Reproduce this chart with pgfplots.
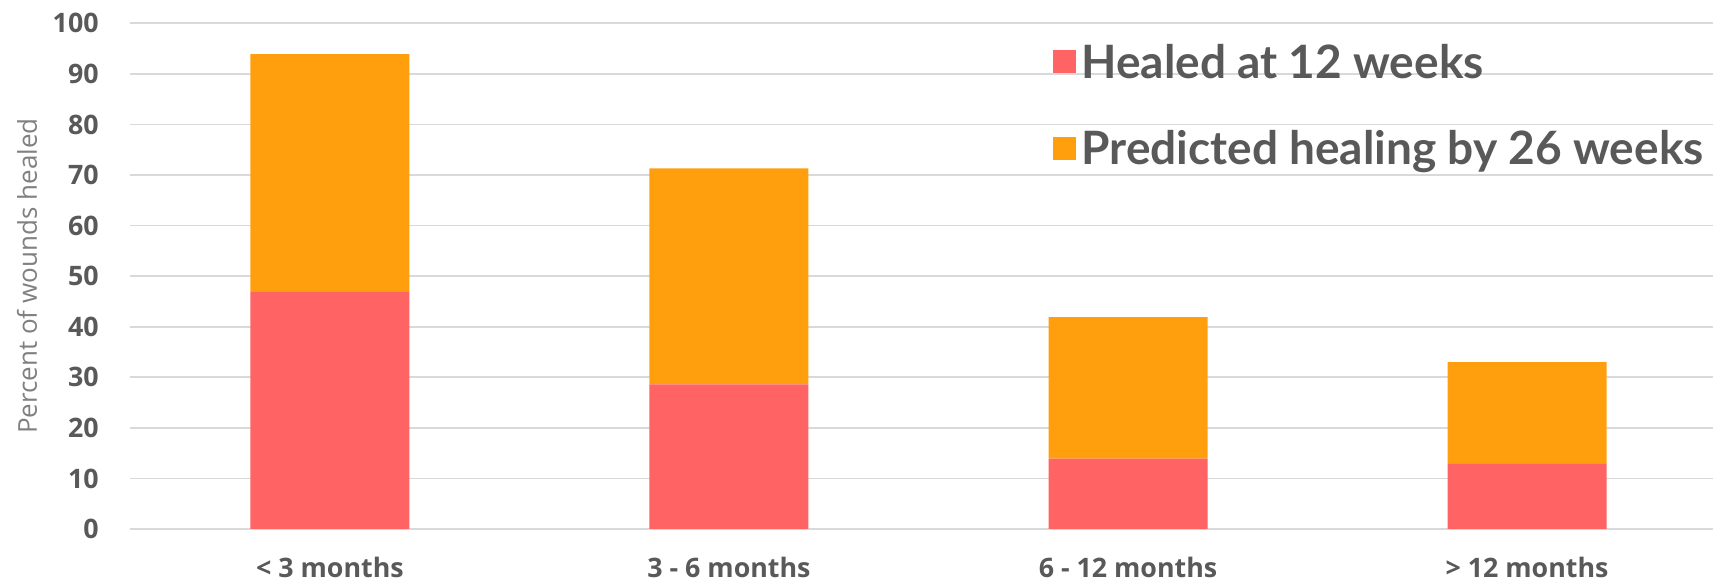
\documentclass[border=0pt]{standalone}
\usepackage{pgfplots}
\pgfplotsset{compat=1.18}
\usepackage{fontspec}
\setmainfont{Open Sans}
\newfontfamily\legfont{Lato}
\definecolor{redbar}{RGB}{255,99,99}
\definecolor{orangebar}{RGB}{255,159,13}
\definecolor{textgray}{RGB}{89,89,89}
\definecolor{labelgray}{RGB}{128,128,128}
\definecolor{gridgray}{RGB}{217,217,217}
\begin{document}
\begin{tikzpicture}
\begin{axis}[
  name=ax,
  scale only axis,
  width=791.5pt, height=252.85pt,
  ybar stacked, bar width=79.5pt,
  xmin=-0.501, xmax=3.466,
  ymin=0, ymax=100,
  ytick={0,10,...,100},
  xtick=data,
  xticklabels={{< 3 months},{3 - 6 months},{6 - 12 months},{> 12 months}},
  axis line style={draw=none},
  major tick length=0pt,
  ymajorgrids, grid style={gridgray, line width=0.8pt},
  /pgf/number format/assume math mode=true,
  ticklabel style={font=\bfseries\fontsize{13.4}{14}\selectfont, text=textgray},
  yticklabel style={anchor=east, inner sep=0pt, xshift=-15.5pt},
  xticklabel style={anchor=base, inner sep=0pt, yshift=-24.5pt},
  ylabel={Percent of wounds healed},
  ylabel style={at={(axis description cs:-0.0651,0.5)}, anchor=center, rotate=0,
    font=\fontsize{13}{14}\selectfont, text=labelgray},
  legend style={at={(rel axis cs:0.5825,0.968)}, anchor=north west, draw=none, fill=none,
    inner sep=0pt, font=\legfont\bfseries\fontsize{23}{23}\selectfont, text=textgray,
    row sep=20.5pt, /tikz/every odd column/.append style={column sep=1pt}},
  legend cell align=left,
  legend image code/.code={\fill[#1] (0pt,-5.5pt) rectangle (11.5pt,6pt);},
]
\addplot[fill=redbar, draw=none] coordinates {(0,46.9) (1,28.6) (2,13.9) (3,12.9)};
\addlegendentry{Healed at 12 weeks}
\addplot[fill=orangebar, draw=none] coordinates {(0,47.0) (1,42.7) (2,28.0) (3,20.1)};
\addlegendentry{Predicted healing by 26 weeks}
\coordinate (sw) at (rel axis cs:0,0);
\coordinate (ne) at (rel axis cs:1,1);
\end{axis}
\pgfresetboundingbox
\path ([xshift=-65pt,yshift=-27pt]sw) rectangle ([yshift=11.65pt]ne);
\end{tikzpicture}
\end{document}
